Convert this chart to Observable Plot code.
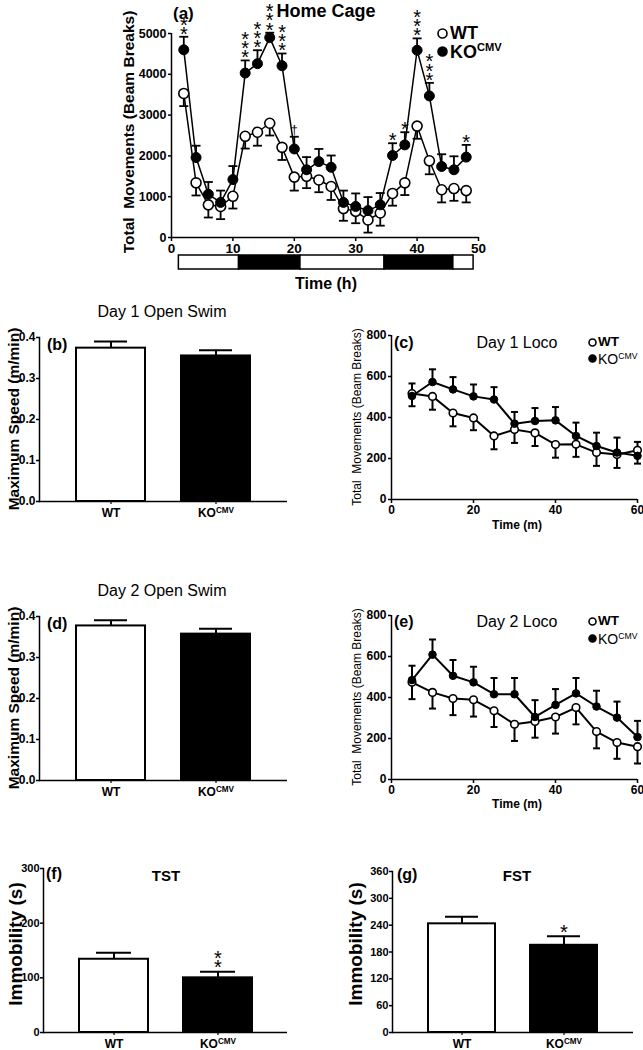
<!DOCTYPE html>
<html><head><meta charset="utf-8">
<script src="https://cdn.jsdelivr.net/npm/d3@7"></script>
<script src="https://cdn.jsdelivr.net/npm/@observablehq/plot@0.6"></script>
<style>
body{margin:0;background:#fff;font-family:"Liberation Sans",Arial,sans-serif;}
#fig{position:relative;width:643px;height:1050px;overflow:hidden;background:#fff;}
.p{position:absolute;}
.lbl{position:absolute;white-space:nowrap;color:#000;line-height:1;}
.c{transform:translate(-50%,-50%);}
.l{transform:translate(0,-50%);}
.r{transform:translate(-50%,-50%) rotate(-90deg);}
sup{font-size:0.62em;position:relative;top:-0.6em;vertical-align:baseline;line-height:0;}
</style></head><body><div id="fig"></div>
<script>
// ---------------- DATA ----------------
// (a) Home cage
const homeTime = [2,4,6,8,10,12,14,16,18,20,22,24,26,28,30,32,34,36,38,40,42,44,46,48];
const homeWT    = [3530,1340,800,760,1010,2480,2580,2800,2210,1480,1500,1410,1250,710,640,430,600,1080,1340,2730,1880,1170,1200,1150];
const homeWTErr = [310,310,310,310,300,300,330,300,310,330,290,300,330,300,290,310,310,300,300,310,330,310,300,290];
const homeKO    = [4600,1960,1060,860,1420,4030,4260,4900,4210,2170,1660,1860,1720,860,760,660,800,2010,2270,4590,3470,1740,1660,1970];
const homeKOErr = [320,290,300,290,330,310,330,120,300,300,310,310,290,290,320,330,290,300,310,290,320,300,330,300];
const homeSig   = ["**","","","","","***","***","***","***","†","","","","","","","","*","*","***","***","","","*"];
const phaseStart = [1.2, 11, 21, 34.7, 45.9];
const phaseEnd   = [11, 21, 34.7, 45.9, 49.2];
const phaseKind  = ["light","dark","light","dark","light"];
const homeXTicks = [0,10,20,30,40,50];
const homeYTicks = [0,1000,2000,3000,4000,5000];

// (c),(e) Locomotion
const locoTime = [5,10,15,20,25,30,35,40,45,50,55,60];
const day1WT    = [517,503,422,398,310,341,325,268,269,229,219,240];
const day1WTErr = [49,65,65,60,65,65,64,64,61,65,65,41];
const day1KO    = [505,573,537,503,488,370,383,386,310,261,229,213];
const day1KOErr = [50,62,60,58,60,57,63,65,65,65,73,38];
const day2WT    = [474,425,395,389,335,269,283,305,351,234,180,160];
const day2WTErr = [82,79,81,82,79,81,79,81,82,82,79,82];
const day2KO    = [485,609,506,474,416,416,305,364,420,356,302,207];
const day2KOErr = [70,74,77,76,79,79,82,77,75,77,78,79];
const locoXTicks = [0,20,40,60];
const locoYTicks = [0,200,400,600,800];

// (b),(d),(f),(g) bars
const groups = ["WT","KO"];
const swim1Mean = [0.374,0.355], swim1Err = [0.016,0.014];
const swim2Mean = [0.377,0.357], swim2Err = [0.014,0.013];
const swimTicks = [0,0.1,0.2,0.3,0.4];
const tstMean = [134,100], tstErr = [12,11], tstSig = ["","**"];
const tstTicks = [0,100,200,300];
const fstMean = [243,195], fstErr = [16,20], fstSig = ["","*"];
const fstTicks = [0,60,120,180,240,300,360];

// ---------------- HELPERS ----------------
const FONT = '"Liberation Sans", Arial, Helvetica, sans-serif';
const fig = document.getElementById("fig");
const NS = "http://www.w3.org/2000/svg";
const cap = {draw(ctx, size){ const r = Math.sqrt(size/Math.PI); ctx.moveTo(-r,0); ctx.lineTo(r,0); }};
const stack = s => s.split("").join("\n");

function place(svg, left, top){
  svg.classList.add("p");
  svg.style.left = left + "px"; svg.style.top = top + "px";
  fixKO(svg);
  fig.appendChild(svg);
}
function fixKO(svg){
  svg.querySelectorAll("text").forEach(t => {
    if (t.childElementCount === 0 && t.textContent === "KO") {
      const ts = document.createElementNS(NS, "tspan");
      ts.setAttribute("dy", "-0.45em");
      ts.setAttribute("font-size", "0.68em");
      ts.textContent = "CMV";
      t.appendChild(ts);
    }
  });
}
function label(html, x, y, mode, css){
  const d = document.createElement("div");
  d.className = "lbl " + mode;
  d.style.cssText = `left:${x}px;top:${y}px;` + (css || "");
  d.innerHTML = html;
  fig.appendChild(d);
}
function circ(cx, cy, r, filled){
  const s = document.createElementNS(NS, "svg");
  const w = 2*r + 4;
  s.setAttribute("width", w); s.setAttribute("height", w);
  s.style.cssText = `position:absolute;left:${cx - w/2}px;top:${cy - w/2}px;overflow:visible`;
  const c = document.createElementNS(NS, "circle");
  c.setAttribute("cx", w/2); c.setAttribute("cy", w/2); c.setAttribute("r", r);
  c.setAttribute("fill", filled ? "black" : "white");
  c.setAttribute("stroke", "black"); c.setAttribute("stroke-width", 1.6);
  s.appendChild(c);
  fig.appendChild(s);
}
const baseStyle = fs => ({fontFamily: FONT, fontWeight: "bold", fontSize: fs + "px", background: "transparent", overflow: "visible", color: "black"});

function linePanel(o){
  const rows = o.t.map((x,i) => ({t:x, wt:o.wt[i], wtE:o.wtErr[i], ko:o.ko[i], koE:o.koErr[i], sig: o.sig ? o.sig[i] : ""}));
  const errs = rows.flatMap(d => {
    const wtUp = d.wt > d.ko;
    return [
      {t:d.t, y:d.wt, e: wtUp ? d.wt + d.wtE : d.wt - d.wtE},
      {t:d.t, y:d.ko, e: wtUp ? d.ko - d.koE : d.ko + d.koE}
    ];
  });
  const marks = [
    Plot.ruleY([0], {strokeWidth: 1.5}),
    Plot.ruleX([0], {strokeWidth: 1.5}),
    Plot.axisY({ticks: o.yTicks, tickFormat: "d", tickSize: 3, tickPadding: 2, fontSize: o.yfs, strokeWidth: 1.5, label: null}),
    Plot.axisX({ticks: o.xTicks, tickFormat: "d", tickSize: 4, tickPadding: 2, fontSize: o.xfs, strokeWidth: 1.5, label: null}),
    Plot.ruleX(errs, {x: "t", y1: "y", y2: "e", strokeWidth: o.esw}),
    Plot.dot(errs, {x: "t", y: "e", symbol: cap, r: o.capR, stroke: "black", fill: "none", strokeWidth: o.esw}),
    Plot.line(rows, {x: "t", y: "wt", stroke: "black", strokeWidth: o.lw}),
    Plot.line(rows, {x: "t", y: "ko", stroke: "black", strokeWidth: o.lw}),
    Plot.dot(rows, {x: "t", y: "wt", r: o.r, fill: "white", stroke: "black", strokeWidth: 1.6}),
    Plot.dot(rows, {x: "t", y: "ko", r: o.r, fill: "black", stroke: "black", strokeWidth: 1})
  ];
  if (o.sig) {
    marks.push(Plot.text(rows.filter(d => d.sig && d.sig !== "†"), {
      x: "t", y: d => d.ko + d.koE, text: d => stack(d.sig),
      lineAnchor: "bottom", lineHeight: 0.46, fontSize: 20, fontWeight: "normal", dy: 4, fill: "black"}));
    marks.push(Plot.text(rows.filter(d => d.sig === "†"), {
      x: "t", y: d => d.ko + d.koE, text: "sig",
      lineAnchor: "bottom", fontSize: 12, fontWeight: "normal", dy: -3, fill: "black"}));
  }
  return Plot.plot({
    width: o.width, height: o.height,
    marginLeft: o.ml, marginRight: o.mr, marginTop: o.mt, marginBottom: o.mb,
    x: {domain: o.xDomain}, y: {domain: o.yDomain},
    style: baseStyle(12),
    marks
  });
}

function barPanel(o){
  const rows = groups.map((g,i) => ({g, m: o.mean[i], e: o.err[i], s: o.sig ? o.sig[i] : ""}));
  const marks = [
    Plot.ruleX(rows, {x: "g", y1: "m", y2: d => d.m + d.e, strokeWidth: 2}),
    Plot.tickY(rows, {x: "g", y: d => d.m + d.e, strokeWidth: 2, insetLeft: o.capInset, insetRight: o.capInset}),
    Plot.barY(rows, {x: "g", y: "m", fill: "g", stroke: "black", strokeWidth: 2}),
    Plot.frame({anchor: "left", strokeWidth: 1.5}),
    Plot.ruleY([0], {strokeWidth: 1.5}),
    Plot.axisY({ticks: o.ticks, tickFormat: o.fmt, tickSize: 3, tickPadding: 1, fontSize: o.yfs, strokeWidth: 1.5, label: null}),
    Plot.axisX({tickSize: 3, tickPadding: 4, fontSize: 12, strokeWidth: 1.2, label: null})
  ];
  if (o.sig) {
    marks.push(Plot.text(rows.filter(d => d.s), {
      x: "g", y: d => d.m + d.e, text: d => stack(d.s),
      lineAnchor: "bottom", lineHeight: 0.46, fontSize: 20, fontWeight: "normal", dy: 2.5, fill: "black"}));
  }
  return Plot.plot({
    width: o.width, height: o.height,
    marginLeft: o.ml, marginRight: o.mr, marginTop: o.mt, marginBottom: o.mb,
    x: {domain: groups, padding: 0.34},
    y: {domain: o.yDomain},
    color: {domain: groups, range: ["white", "black"]},
    style: baseStyle(12),
    marks
  });
}

// ---------------- (a) Home cage ----------------
place(linePanel({
  t: homeTime, wt: homeWT, wtErr: homeWTErr, ko: homeKO, koErr: homeKOErr, sig: homeSig,
  xDomain: [0,50], yDomain: [0,5000], xTicks: homeXTicks, yTicks: homeYTicks,
  width: 500, height: 262, ml: 171, mr: 22, mt: 33, mb: 25,
  r: 5, capR: 4.5, lw: 1.5, esw: 1.8, xfs: 13.5, yfs: 12.5
}), 0, 0);

const phases = phaseStart.map((s,i) => ({s, e: phaseEnd[i], k: phaseKind[i]}));
place(Plot.plot({
  width: 500, height: 25, marginLeft: 171, marginRight: 22, marginTop: 5, marginBottom: 6,
  x: {domain: [0,50], axis: null},
  color: {domain: ["light","dark"], range: ["white","black"]},
  style: baseStyle(12),
  marks: [Plot.rect(phases, {x1: "s", x2: "e", fill: "k", stroke: "black", strokeWidth: 1.5})]
}), 0, 250);

label("(a)", 173, 13, "l", "font-weight:bold;font-size:17px;");
label("Home Cage", 326, 11, "c", "font-weight:bold;font-size:18px;");
label("Total&nbsp;&nbsp;Movements (Beam Breaks)", 129, 132, "r", "font-weight:bold;font-size:15.5px;");
label("Time (h)", 326, 284, "c", "font-weight:bold;font-size:16px;");
circ(442, 33, 4.5, false);
label("WT", 450, 33, "l", "font-weight:bold;font-size:18px;");
circ(442, 51, 4.5, true);
label("KO<sup>CMV</sup>", 450, 52, "l", "font-weight:bold;font-size:18px;");

// ---------------- (b) Day 1 open swim ----------------
place(barPanel({
  mean: swim1Mean, err: swim1Err, yDomain: [0,0.4], ticks: swimTicks, fmt: ".1f",
  width: 300, height: 232, ml: 39, mr: 13, mt: 37, mb: 31, capInset: 18, yfs: 12
}), 0, 300);
label("Day 1 Open Swim", 162, 312, "c", "font-size:16px;");
label("(b)", 47, 345, "l", "font-weight:bold;font-size:16px;");
label("Maximum Speed (m/min)", 14, 419, "r", "font-weight:bold;font-size:15.5px;");

// ---------------- (c) Day 1 loco ----------------
place(linePanel({
  t: locoTime, wt: day1WT, wtErr: day1WTErr, ko: day1KO, koErr: day1KOErr,
  xDomain: [0,60], yDomain: [0,800], xTicks: locoXTicks, yTicks: locoYTicks,
  width: 323, height: 215, ml: 71, mr: 6, mt: 15, mb: 36,
  r: 3.8, capR: 3.5, lw: 2, esw: 2, xfs: 12, yfs: 12
}), 320, 320);
label("Day 1 Loco", 517, 343, "c", "font-size:16px;");
label("(c)", 394, 343, "l", "font-weight:bold;font-size:16px;");
label("Total&nbsp;&nbsp;Movements (Beam Breaks)", 357, 417, "r", "font-size:12px;");
label("Time (m)", 517, 525, "c", "font-weight:bold;font-size:12px;");
circ(592, 342, 3.5, false);
label("WT", 598, 342, "l", "font-weight:bold;font-size:13.5px;");
circ(592, 358, 3.5, true);
label("KO<sup>CMV</sup>", 598, 359, "l", "font-size:14px;");

// ---------------- (d) Day 2 open swim ----------------
place(barPanel({
  mean: swim2Mean, err: swim2Err, yDomain: [0,0.4], ticks: swimTicks, fmt: ".1f",
  width: 300, height: 232, ml: 39, mr: 13, mt: 36, mb: 32, capInset: 18, yfs: 12
}), 0, 580);
label("Day 2 Open Swim", 162, 591, "c", "font-size:16px;");
label("(d)", 47, 624, "l", "font-weight:bold;font-size:16px;");
label("Maximum Speed (m/min)", 14, 698, "r", "font-weight:bold;font-size:15.5px;");

// ---------------- (e) Day 2 loco ----------------
place(linePanel({
  t: locoTime, wt: day2WT, wtErr: day2WTErr, ko: day2KO, koErr: day2KOErr,
  xDomain: [0,60], yDomain: [0,800], xTicks: locoXTicks, yTicks: locoYTicks,
  width: 323, height: 215, ml: 71, mr: 6, mt: 15, mb: 36,
  r: 3.8, capR: 3.5, lw: 2, esw: 2, xfs: 12, yfs: 12
}), 320, 600);
label("Day 2 Loco", 517, 622, "c", "font-size:16px;");
label("(e)", 394, 622, "l", "font-weight:bold;font-size:16px;");
label("Total&nbsp;&nbsp;Movements (Beam Breaks)", 357, 697, "r", "font-size:12px;");
label("Time (m)", 517, 804, "c", "font-weight:bold;font-size:12px;");
circ(592, 621, 3.5, false);
label("WT", 598, 621, "l", "font-weight:bold;font-size:13.5px;");
circ(592, 638, 3.5, true);
label("KO<sup>CMV</sup>", 598, 639, "l", "font-size:14px;");

// ---------------- (f) TST ----------------
place(barPanel({
  mean: tstMean, err: tstErr, sig: tstSig, yDomain: [0,300], ticks: tstTicks, fmt: "d",
  width: 300, height: 190, ml: 43, mr: 13, mt: 8, mb: 18, capInset: 17, yfs: 11
}), 0, 860);
label("TST", 166, 875, "c", "font-weight:bold;font-size:15px;");
label("(f)", 46, 874, "l", "font-weight:bold;font-size:16px;");
label("Immobility (s)", 15, 944, "r", "font-weight:bold;font-size:19px;");

// ---------------- (g) FST ----------------
place(barPanel({
  mean: fstMean, err: fstErr, sig: fstSig, yDomain: [0,360], ticks: fstTicks, fmt: "d",
  width: 323, height: 190, ml: 72, mr: 10, mt: 11, mb: 18, capInset: 17, yfs: 11
}), 320, 860);
label("FST", 517, 875, "c", "font-weight:bold;font-size:15px;");
label("(g)", 397, 875, "l", "font-weight:bold;font-size:16px;");
label("Immobility (s)", 355, 944, "r", "font-weight:bold;font-size:19px;");
</script>
</body></html>
